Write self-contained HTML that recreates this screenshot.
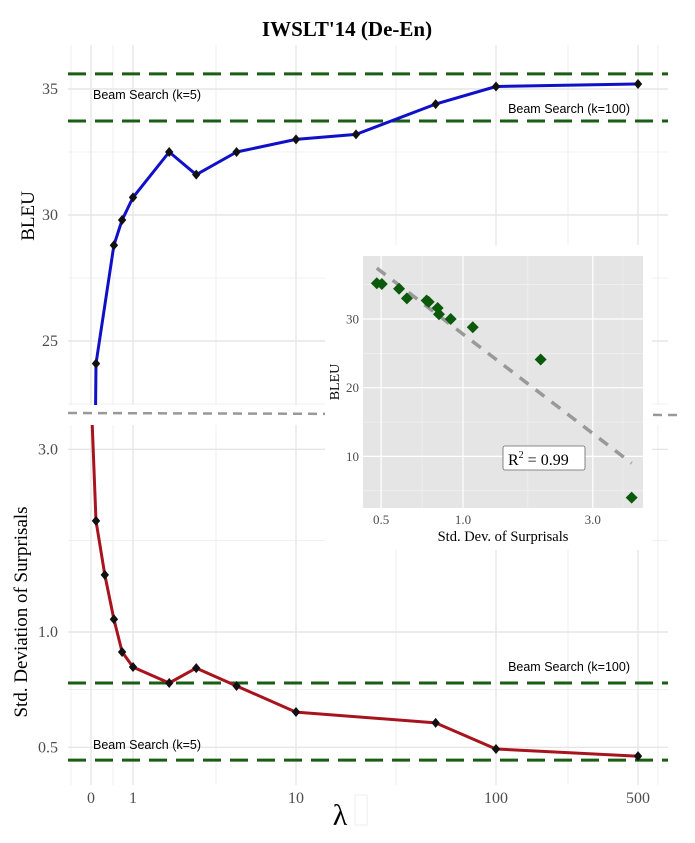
<!DOCTYPE html>
<html><head><meta charset="utf-8"><style>
body{margin:0;background:#fff}
svg{display:block;font-family:"Liberation Serif",serif}
.sans{font-family:"Liberation Sans",sans-serif}
</style></head><body>
<svg id="c" width="695" height="843" viewBox="0 0 695 843" xmlns="http://www.w3.org/2000/svg">
<defs>
<clipPath id="cpTop"><rect x="68" y="45" width="600" height="360"/></clipPath>
<clipPath id="cpBot"><rect x="68" y="425" width="600" height="365"/></clipPath>
<clipPath id="cpIn"><rect x="363" y="256" width="280" height="252"/></clipPath>
</defs>
<text x="347" y="36" text-anchor="middle" font-size="21" font-weight="bold">IWSLT'14 (De-En)</text>
<g id="grid"></g>
<g id="marks"></g>
<g id="inset"></g>
</svg>
<script>
const topLambda=[0,0.033,0.27,0.49,1,1.7,2.5,4.4,10,20,50,100,500];
const topBleu=[4.0,24.1,28.8,29.8,30.7,32.5,31.6,32.5,33.0,33.2,34.4,35.1,35.2];
const botLambda=[0,0.033,0.12,0.27,0.49,1,1.7,2.5,4.4,10,50,100,500];
const botSd=[4.2,1.95,1.41,1.08,0.887,0.81,0.736,0.805,0.723,0.618,0.579,0.495,0.474];
const xTicks=[0,1,10,100,500];
const xTickLabels=["0","1","10","100","500"];
const topYTicks=[25,30,35];
const botYTicks=[0.5,1.0,3.0];
const botYTickLabels=["0.5","1.0","3.0"];
const beamTop=[35.6,33.73];
const beamBot=[0.736,0.463];
const insetSd=[0.482,0.503,0.582,0.622,0.735,0.748,0.807,0.816,0.901,1.086,1.93,4.17];
const insetBleu=[35.2,35.1,34.4,33.0,32.7,32.5,31.6,30.7,30.0,28.8,24.1,4.0];
const insetXTicks=[0.5,1.0,3.0];
const insetXTickLabels=["0.5","1.0","3.0"];
const insetYTicks=[10,20,30];
const fitIntercept=27.8, fitSlope=-30.3;

const NS="http://www.w3.org/2000/svg";
function mk(parent,tag,attrs){const e=document.createElementNS(NS,tag);for(const k in attrs)e.setAttribute(k,attrs[k]);parent.appendChild(e);return e;}
const knotV=[0,1,10,100,500], knotP=[91,133,296,496,638];
function xs(l){const u=Math.log10(l+0.1);const ku=knotV.map(v=>Math.log10(v+0.1));
 let i=0;while(i<ku.length-2&&u>ku[i+1])i++;return knotP[i]+(u-ku[i])/(ku[i+1]-ku[i])*(knotP[i+1]-knotP[i]);}
function yTop(v){return 89+(35-v)*25.2;}
function yBot(v){return 632-383*Math.log10(v);}
function xIn(s){return 463+272*Math.log10(s);}
function yIn(b){return 319-(b-30)*6.87;}

const grid=document.getElementById('grid'), marks=document.getElementById('marks'), inset=document.getElementById('inset');
[71,113,216,396,568,658].forEach(x=>{
 let l=mk(grid,'line',{x1:x,x2:x,y1:45,y2:405,stroke:'#ebebeb','stroke-width':0.8});
 
 l=mk(grid,'line',{x1:x,x2:x,y1:425,y2:785,stroke:'#ebebeb','stroke-width':0.8});
 
});
xTicks.forEach((t,i)=>{
 const x=xs(t);
 let l=mk(grid,'line',{x1:x,x2:x,y1:45,y2:405,stroke:'#e6e6e6','stroke-width':1.4});
 
 l=mk(grid,'line',{x1:x,x2:x,y1:425,y2:785,stroke:'#e6e6e6','stroke-width':1.4});
 
 const tx=mk(grid,'text',{x:x,y:803,'text-anchor':'middle','font-size':16,fill:'#4d4d4d'});
 tx.textContent=xTickLabels[i];
 
});
[27.5,32.5,22.5].forEach(v=>{const l=mk(grid,'line',{x1:68,x2:668,y1:yTop(v),y2:yTop(v),stroke:'#ebebeb','stroke-width':0.8});
 });
topYTicks.forEach(v=>{const y=yTop(v);
 const l=mk(grid,'line',{x1:68,x2:668,y1:y,y2:y,stroke:'#e6e6e6','stroke-width':1.4});
 
 const t=mk(grid,'text',{x:58,y:y+5,'text-anchor':'end','font-size':16,fill:'#4d4d4d'});t.textContent=String(v);
 });
[Math.sqrt(3),Math.sqrt(0.5)].forEach(v=>{const l=mk(grid,'line',{x1:68,x2:668,y1:yBot(v),y2:yBot(v),stroke:'#ebebeb','stroke-width':0.8});
 });
botYTicks.forEach((v,i)=>{const y=yBot(v);
 const l=mk(grid,'line',{x1:68,x2:668,y1:y,y2:y,stroke:'#e6e6e6','stroke-width':1.4});
 
 const t=mk(grid,'text',{x:58,y:y+5,'text-anchor':'end','font-size':16,fill:'#4d4d4d'});t.textContent=botYTickLabels[i];
 });

let t=mk(grid,'text',{x:0,y:0,'font-size':19,'text-anchor':'middle',transform:'translate(34,216) rotate(-90)'});t.textContent='BLEU';

t=mk(grid,'text',{x:0,y:0,'font-size':19,'text-anchor':'middle',transform:'translate(27,612) rotate(-90)'});t.textContent='Std. Deviation of Surprisals';

t=mk(grid,'text',{x:340,y:825,'font-size':30,'text-anchor':'middle'});t.textContent='λ';

let r=mk(grid,'rect',{x:355,y:795,width:12,height:30,fill:'none',stroke:'#eee','stroke-width':1});

let sep=mk(grid,'line',{x1:68,x2:680,y1:413,y2:415,stroke:'#999','stroke-width':2.5,'stroke-dasharray':'9 6'});


beamTop.forEach(v=>{const l=mk(marks,'line',{x1:68,x2:668,y1:yTop(v),y2:yTop(v),stroke:'#1a5e14','stroke-width':3,'stroke-dasharray':'18 9'});
 });
beamBot.forEach(v=>{const l=mk(marks,'line',{x1:68,x2:668,y1:yBot(v),y2:yBot(v),stroke:'#1a5e14','stroke-width':3,'stroke-dasharray':'18 9'});
 });
[[93,99,'start','Beam Search (k=5)','top-beam5-label'],[630,113,'end','Beam Search (k=100)','top-beam100-label'],
 [630,671,'end','Beam Search (k=100)','bottom-beam100-label'],[93,749,'start','Beam Search (k=5)','bottom-beam5-label']].forEach(a=>{
 const e=mk(marks,'text',{x:a[0],y:a[1],'text-anchor':a[2],'font-size':12.5,class:'sans'});e.textContent=a[3];
 });

function series(lams,vals,yf,color,clip,name){
 const g=mk(marks,'g',{'clip-path':'url(#'+clip+')'});
 
 const pts=lams.map((l,i)=>xs(l).toFixed(1)+','+yf(vals[i]).toFixed(1)).join(' ');
 const pl=mk(g,'polyline',{points:pts,fill:'none',stroke:color,'stroke-width':3,'stroke-linejoin':'round'});
 
 lams.forEach((l,i)=>{const x=xs(l),y=yf(vals[i]);
  const d=mk(g,'path',{d:`M${x},${y-5}L${x+4.2},${y}L${x},${y+5}L${x-4.2},${y}Z`,fill:'#111'});
  });
}
series(topLambda,topBleu,yTop,'#1010c8','cpTop','bleu-series');
series(botLambda,botSd,yBot,'#a8141e','cpBot','sd-series');

let bg=mk(inset,'rect',{x:325,y:245,width:327,height:305,fill:'#fff'});

let pn=mk(inset,'rect',{x:363,y:256,width:280,height:252,fill:'#e5e5e5'});

[Math.sqrt(0.5),Math.sqrt(3),Math.sqrt(15)].forEach(s=>{const x=xIn(s);const l=mk(inset,'line',{x1:x,x2:x,y1:256,y2:508,stroke:'#f2f2f2','stroke-width':0.7});
 });
[5,15,25,35].forEach(b=>{const y=yIn(b);const l=mk(inset,'line',{x1:363,x2:643,y1:y,y2:y,stroke:'#f2f2f2','stroke-width':0.7});
 });
insetXTicks.forEach((s,i)=>{const x=xIn(s);const l=mk(inset,'line',{x1:x,x2:x,y1:256,y2:508,stroke:'#fff','stroke-width':1.2});
 
 const e=mk(inset,'text',{x:x,y:524,'text-anchor':'middle','font-size':13,fill:'#4d4d4d'});e.textContent=insetXTickLabels[i];
 });
insetYTicks.forEach(b=>{const y=yIn(b);const l=mk(inset,'line',{x1:363,x2:643,y1:y,y2:y,stroke:'#fff','stroke-width':1.2});
 
 const e=mk(inset,'text',{x:359,y:y+4.5,'text-anchor':'end','font-size':13,fill:'#4d4d4d'});e.textContent=String(b);
 });
const gi=mk(inset,'g',{'clip-path':'url(#cpIn)'});

const s0=0.482,s1=4.17;
let fl=mk(gi,'line',{x1:xIn(s0),y1:yIn(fitIntercept+fitSlope*Math.log10(s0)),x2:xIn(s1),y2:yIn(fitIntercept+fitSlope*Math.log10(s1)),stroke:'#999','stroke-width':3.5,'stroke-dasharray':'11 9'});

insetSd.forEach((s,i)=>{const x=xIn(s),y=yIn(insetBleu[i]);
 const d=mk(gi,'path',{d:`M${x},${y-6}L${x+6},${y}L${x},${y+6}L${x-6},${y}Z`,fill:'#0b5a0b'});
 });
let lb=mk(inset,'rect',{x:503,y:446,width:82,height:24,rx:2,fill:'#fff',stroke:'#666','stroke-width':0.8});

let rt=mk(inset,'text',{x:508,y:465,'font-size':16});rt.innerHTML='R<tspan dy="-7" font-size="10">2</tspan><tspan dy="7"> = 0.99</tspan>';

t=mk(inset,'text',{x:0,y:0,'font-size':14,'text-anchor':'middle',transform:'translate(339,382) rotate(-90)'});t.textContent='BLEU';

t=mk(inset,'text',{x:503,y:541,'font-size':14.5,'text-anchor':'middle'});t.textContent='Std. Dev. of Surprisals';

</script>
</body></html>
